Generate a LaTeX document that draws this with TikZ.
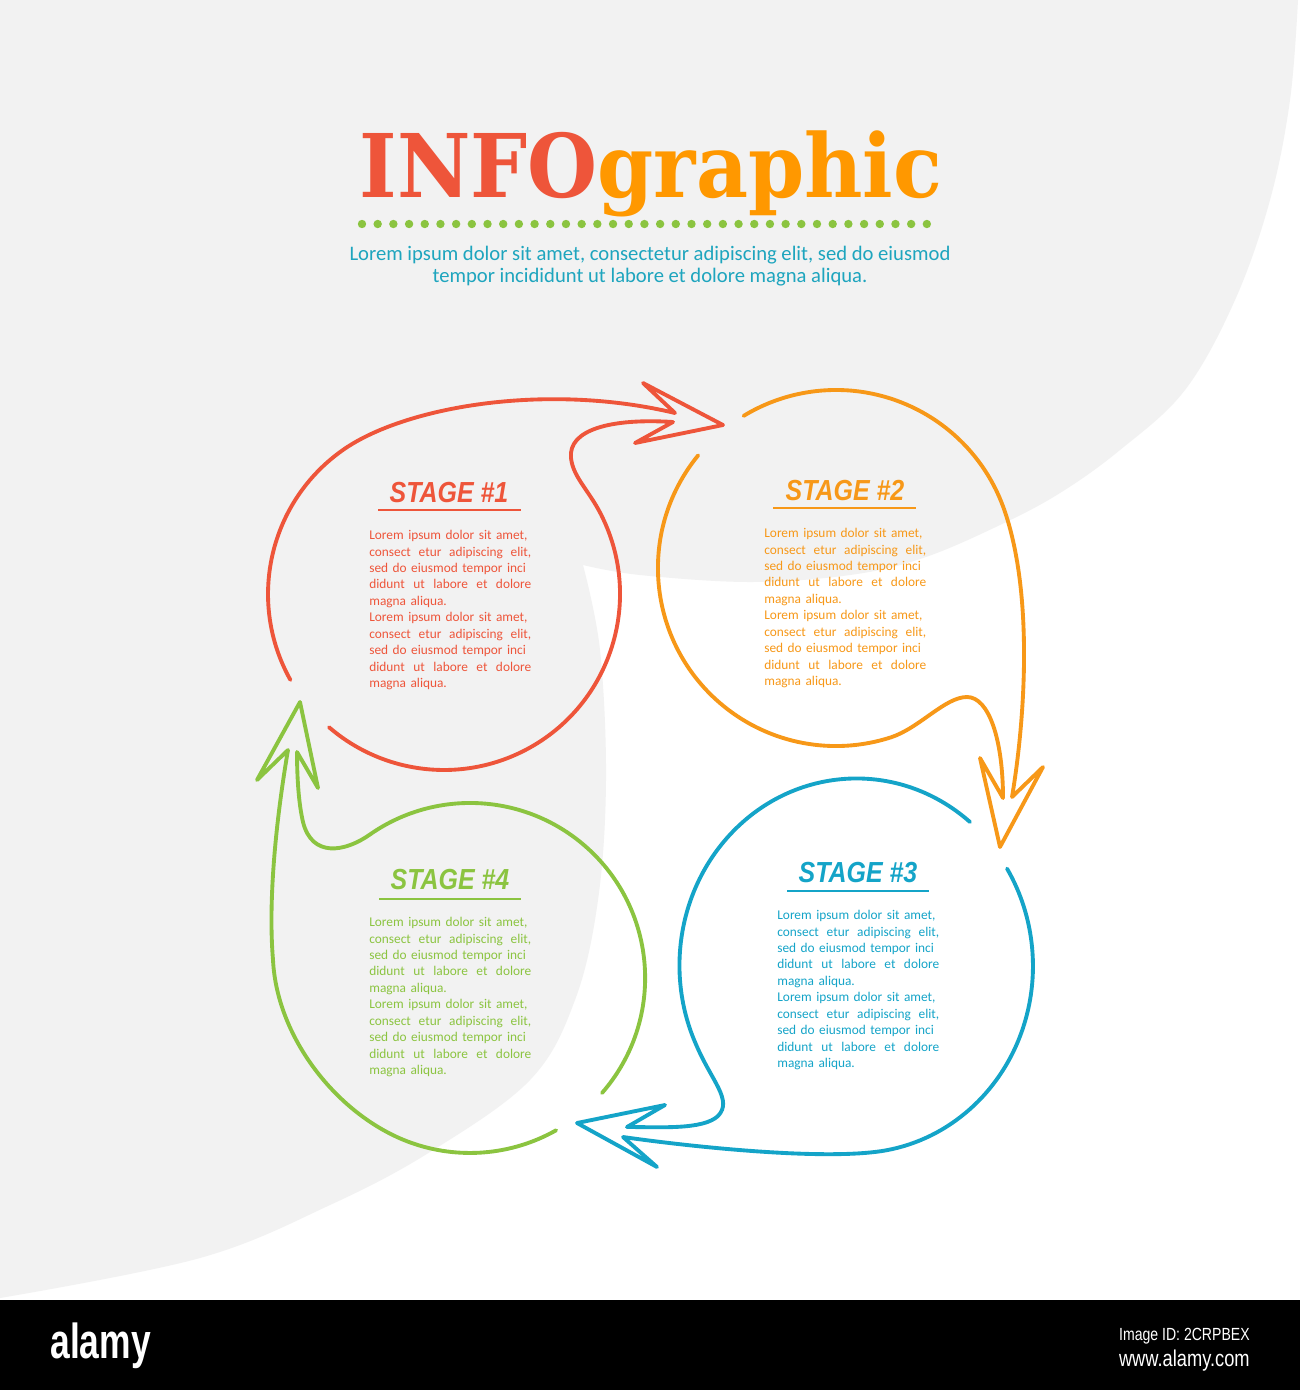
\documentclass[tikz,border=0pt]{standalone}
\usepackage{fontspec}
\setmainfont{Carlito}
\newfontfamily\titlefont[FakeStretch=0.915]{DejaVu Serif}
\newfontfamily\stagefont[FakeStretch=0.86]{Liberation Sans}
\newfontfamily\logofont[FakeStretch=0.72]{Liberation Sans}
\newfontfamily\idfont[FakeStretch=0.8]{Liberation Sans}
\definecolor{infored}{RGB}{238,85,58}
\definecolor{infoorange}{RGB}{255,152,0}
\definecolor{stageorange}{RGB}{247,152,24}
\definecolor{stageblue}{RGB}{20,164,200}
\definecolor{stagegreen}{RGB}{139,196,64}
\definecolor{subteal}{RGB}{30,165,190}
\definecolor{bggray}{RGB}{242,242,242}
\newcommand{\jl}[1]{\makebox[3.24cm][s]{\spaceskip=0.3em plus 3em\relax #1}\\}
\newcommand{\nl}[1]{\makebox[3.24cm][l]{#1}\\}
\newcommand{\loremtext}{\nl{Lorem ipsum dolor sit amet,}%
\jl{consect etur adipiscing elit,}%
\nl{sed do eiusmod tempor inci}%
\jl{didunt ut labore et dolore}%
\nl{magna aliqua.}%
\nl{Lorem ipsum dolor sit amet,}%
\jl{consect etur adipiscing elit,}%
\nl{sed do eiusmod tempor inci}%
\jl{didunt ut labore et dolore}%
\makebox[3.24cm][l]{magna aliqua.}}
\begin{document}
\begin{tikzpicture}[x=0.02cm, y=-0.02cm,
	stageline/.style={line width=2.2pt, line join=round, line cap=round},
	stagehead/.style={inner sep=0pt, font=\stagefont\bfseries\itshape\fontsize{16.5}{18}\selectfont},
	stagetext/.style={inner sep=0pt, anchor=north west, text width=3.24cm, align=left, font=\fontsize{7.6}{9.35}\selectfont},
	headrule/.style={line width=1.4pt}]
	\useasboundingbox (0,0) rectangle (1300,1390);
	\fill[white] (0,0) rectangle (1300,1390);
	\fill[bggray] (0,0) -- (1298,0) -- plot[smooth, tension=0.6] coordinates {(1298,0) (1290,100) (1270,200) (1235,300) (1185,390) (1120,450) (1060,493) (1000,525) (923,558) (850,575) (750,582) (640,575) (583,565)} -- plot[smooth, tension=0.6] coordinates {(583,565) (600,650) (606,780) (598,900) (575,1000) (530,1080) (430,1152) (330,1205) (200,1258) (0,1298)} -- cycle;
	\node[anchor=base, inner sep=0pt, font=\titlefont\bfseries\fontsize{50}{50}\selectfont] (title) at (651,197) {\textcolor{infored}{INFO}\textcolor{infoorange}{graphic}};
	\foreach \i in {0,...,36}
		\fill[stagegreen] (362+\i*15.69,224) circle (0.084cm);
	\node[align=center, inner sep=0pt, text=subteal, font=\fontsize{11.75}{12.5}\selectfont] (subtitle) at (650,266) {Lorem ipsum dolor sit amet, consectetur adipiscing elit, sed do eiusmod\\tempor incididunt ut labore et dolore magna aliqua.};

	\draw[stageline, infored] (290.4,679.9) arc[start angle=150.8, end angle=235, radius=176] .. controls (404,407) and (545,382) .. (675,413) -- (643,383) -- (723,425) -- (635,443) -- (673,422) .. controls (610,418) and (568,430) .. (571,458) .. controls (573,478) and (591,492) .. (603.5,519.6) arc[start angle=335, end angle=490.8, radius=176];
	\draw[stageline, stageorange] (698.2,455.3) arc[start angle=219.3, end angle=72, radius=178] .. controls (919.5,728) and (945,697) .. (967,697) .. controls (989,697) and (1003,740) .. (1003,798) -- (980,758) -- (1000,847) -- (1043,767) -- (1012,797) .. controls (1025,720) and (1034,592) .. (1003.3,507.1) arc[start angle=340, end angle=238.7, radius=178];
	\draw[stageline, stageblue] (970,822) arc[start angle=309.9, end angle=155, x radius=177, y radius=187] .. controls (712,1082) and (733,1100) .. (718,1116) .. controls (703,1130) and (660,1127) .. (627,1127) -- (665,1105) -- (577,1123) -- (657,1167) -- (623,1137) .. controls (693,1147) and (827.7,1161.2) .. (886.7,1150.2) arc[start angle=80, end angle=-31.4, x radius=177, y radius=187];
	\draw[stageline, stagegreen] (602,1093) arc[start angle=41.1, end angle=-125, radius=175] .. controls (345,852) and (312,858) .. (303,822) .. controls (299,805) and (297,780) .. (297,752) -- (318,788) -- (300,702) -- (257,780) -- (288,750) .. controls (276,820) and (268,900) .. (273,960) .. controls (277,1040) and (340,1117) .. (410.1,1142.4) arc[start angle=110, end angle=60.5, radius=175];

	\node[stagehead, text=infored] (headone) at (449,493) {STAGE \#1};
	\draw[headrule, infored] (378,510) -- (521,510);
	\node[stagetext, text=infored] (textone) at (369,530) {\loremtext};
	\node[stagehead, text=stageorange] (headtwo) at (845,491) {STAGE \#2};
	\draw[headrule, stageorange] (773,508) -- (916,508);
	\node[stagetext, text=stageorange] (texttwo) at (764,528) {\loremtext};
	\node[stagehead, text=stageblue] (headthree) at (858,873) {STAGE \#3};
	\draw[headrule, stageblue] (787,891) -- (929,891);
	\node[stagetext, text=stageblue] (textthree) at (777,910) {\loremtext};
	\node[stagehead, text=stagegreen] (headfour) at (450,880) {STAGE \#4};
	\draw[headrule, stagegreen] (379,899) -- (521,899);
	\node[stagetext, text=stagegreen] (textfour) at (369,917) {\loremtext};

	\fill[black] (0,1300) rectangle (1300,1390);
	\node[anchor=base west, inner sep=0pt, text=white, font=\logofont\bfseries\fontsize{28}{28}\selectfont] (alamylogo) at (50,1358) {alamy};
	\node[anchor=base east, inner sep=0pt, text=white, font=\idfont\fontsize{10}{10}\selectfont] (imageid) at (1250,1340) {Image ID: 2CRPBEX};
	\node[anchor=base east, inner sep=0pt, text=white, font=\idfont\fontsize{13}{13}\selectfont] (alamyurl) at (1250,1366) {www.alamy.com};
\end{tikzpicture}
\end{document}
